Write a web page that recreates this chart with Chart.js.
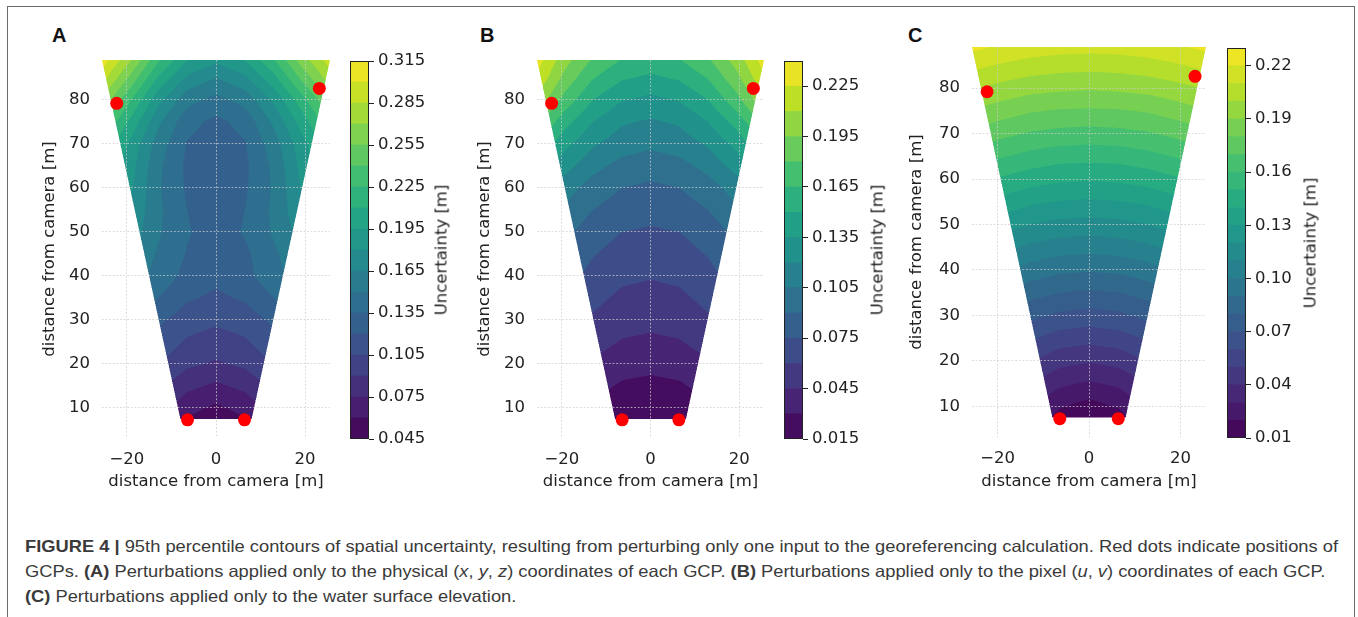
<!DOCTYPE html>
<html>
<head>
<meta charset="utf-8">
<title>Figure 4 - spatial uncertainty</title>
<script src="https://cdn.jsdelivr.net/npm/chart.js@4.4.1/dist/chart.umd.min.js"></script>
<style>
  html, body { margin: 0; padding: 0; background: #fff; }
  body { position: relative; width: 1358px; height: 617px; overflow: hidden; font-family: "DejaVu Sans", sans-serif; }
  #frame { position: absolute; left: 7px; top: 6px; width: 1348px; height: 660px; border: 1.5px solid #6a6a6a; box-sizing: border-box; }
  canvas { position: absolute; }
  .tag { position: absolute; top: 24px; font: bold 20px "Liberation Sans", Arial, sans-serif; color: #111; }
  .cbtitle { position: absolute; font-size: 16.5px; color: #222; white-space: nowrap; transform: translate(-50%, -50%) rotate(-90deg); }
  #caption { position: absolute; left: 25px; top: 534px; font: 16.5px "Liberation Sans", Arial, sans-serif; color: #3a3a3a; line-height: 25px; white-space: nowrap; transform-origin: 0 0; }
  #caption span { display: inline-block; }
</style>
</head>
<body>
<div id="frame"></div>

<div class="tag" style="left:52px">A</div>
<div class="tag" style="left:480px">B</div>
<div class="tag" style="left:908px">C</div>

<canvas id="plotA" width="320" height="455" style="left:20px;top:50px"></canvas>
<canvas id="barA" width="95" height="398" style="left:345px;top:51px"></canvas>
<canvas id="plotB" width="319" height="455" style="left:455px;top:50px"></canvas>
<canvas id="barB" width="95" height="398" style="left:779px;top:51px"></canvas>
<canvas id="plotC" width="326" height="468" style="left:890px;top:37px"></canvas>
<canvas id="barC" width="95" height="410" style="left:1222px;top:38px"></canvas>

<div class="cbtitle" style="left:441px;top:250px">Uncertainty [m]</div>
<div class="cbtitle" style="left:877px;top:250px">Uncertainty [m]</div>
<div class="cbtitle" style="left:1310px;top:243px">Uncertainty [m]</div>

<div id="caption">
  <div><span id="capLine1"><b>FIGURE 4 |</b> 95th percentile contours of spatial uncertainty, resulting from perturbing only one input to the georeferencing calculation. Red dots indicate positions of</span></div>
  <div><span>GCPs. <b>(A)</b> Perturbations applied only to the physical (<i>x</i>, <i>y</i>, <i>z</i>) coordinates of each GCP. <b>(B)</b> Perturbations applied only to the pixel (<i>u</i>, <i>v</i>) coordinates of each GCP.</span></div>
  <div><span><b>(C)</b> Perturbations applied only to the water surface elevation.</span></div>
</div>

<script>
// axis ticks
const xTicks = [-20, 0, 20];
const yTicks = [10, 20, 30, 40, 50, 60, 70, 80];

// ground control points (x, y in metres)
const gcpX = [-22.3, 23.2, -6.4, 6.4];
const gcpY = [79.2, 82.6, 7.3, 7.3];

// camera footprint corners
const footprintX = [-25.6, 25.6, 8.0, -8.0];
const footprintY = [89.05, 89.05, 7.5, 7.5];

// nodes of the uncertainty grids
const gridX = [-26, -19.5, -13, -6.5, 0, 6.5, 13, 19.5, 26];
const gridY = [7, 10, 15, 20, 25, 30, 35, 40, 45, 50, 55, 60, 65, 70, 75, 80, 85, 90];

// A: physical (x, y, z) of GCPs, one row per gridY
const uncertaintyA = [
  [0.130, 0.100, 0.075, 0.058, 0.050, 0.058, 0.075, 0.100, 0.130],
  [0.135, 0.105, 0.082, 0.065, 0.057, 0.065, 0.082, 0.105, 0.135],
  [0.140, 0.115, 0.094, 0.079, 0.072, 0.079, 0.094, 0.115, 0.140],
  [0.148, 0.125, 0.106, 0.093, 0.088, 0.093, 0.106, 0.125, 0.148],
  [0.152, 0.132, 0.115, 0.103, 0.098, 0.103, 0.115, 0.132, 0.152],
  [0.158, 0.138, 0.123, 0.112, 0.108, 0.112, 0.123, 0.138, 0.158],
  [0.164, 0.148, 0.135, 0.122, 0.117, 0.122, 0.135, 0.148, 0.164],
  [0.172, 0.158, 0.145, 0.130, 0.124, 0.130, 0.145, 0.158, 0.172],
  [0.178, 0.165, 0.148, 0.134, 0.127, 0.132, 0.147, 0.163, 0.176],
  [0.188, 0.175, 0.152, 0.1365, 0.127, 0.1365, 0.152, 0.172, 0.185],
  [0.198, 0.180, 0.153, 0.135, 0.126, 0.135, 0.153, 0.178, 0.195],
  [0.205, 0.184, 0.152, 0.133, 0.125, 0.133, 0.152, 0.182, 0.200],
  [0.214, 0.188, 0.153, 0.132, 0.124, 0.132, 0.153, 0.186, 0.210],
  [0.225, 0.193, 0.158, 0.134, 0.127, 0.134, 0.158, 0.190, 0.220],
  [0.245, 0.208, 0.168, 0.140, 0.131, 0.140, 0.168, 0.203, 0.238],
  [0.270, 0.228, 0.185, 0.155, 0.145, 0.155, 0.183, 0.220, 0.258],
  [0.295, 0.253, 0.208, 0.177, 0.165, 0.177, 0.205, 0.245, 0.280],
  [0.314, 0.278, 0.232, 0.200, 0.188, 0.200, 0.228, 0.268, 0.298]
];

// B: pixel (u, v) of GCPs
const uncertaintyB = [
  [0.053, 0.037, 0.025, 0.018, 0.016, 0.018, 0.025, 0.037, 0.053],
  [0.056, 0.040, 0.028, 0.021, 0.019, 0.021, 0.028, 0.040, 0.056],
  [0.063, 0.047, 0.035, 0.028, 0.026, 0.028, 0.035, 0.047, 0.063],
  [0.071, 0.055, 0.043, 0.036, 0.034, 0.036, 0.043, 0.055, 0.071],
  [0.079, 0.063, 0.051, 0.044, 0.042, 0.044, 0.051, 0.063, 0.079],
  [0.086, 0.070, 0.058, 0.051, 0.049, 0.051, 0.058, 0.070, 0.086],
  [0.092, 0.076, 0.064, 0.057, 0.055, 0.057, 0.064, 0.076, 0.092],
  [0.098, 0.082, 0.070, 0.063, 0.061, 0.063, 0.070, 0.082, 0.098],
  [0.104, 0.088, 0.076, 0.069, 0.067, 0.069, 0.076, 0.088, 0.104],
  [0.110, 0.094, 0.082, 0.075, 0.073, 0.075, 0.082, 0.094, 0.110],
  [0.121, 0.103, 0.090, 0.083, 0.080, 0.083, 0.090, 0.103, 0.121],
  [0.131, 0.112, 0.098, 0.090, 0.087, 0.090, 0.098, 0.112, 0.131],
  [0.148, 0.126, 0.110, 0.100, 0.097, 0.100, 0.110, 0.126, 0.148],
  [0.166, 0.140, 0.122, 0.112, 0.108, 0.112, 0.122, 0.140, 0.166],
  [0.186, 0.156, 0.135, 0.122, 0.118, 0.122, 0.135, 0.156, 0.186],
  [0.209, 0.175, 0.150, 0.136, 0.131, 0.136, 0.150, 0.175, 0.209],
  [0.225, 0.191, 0.166, 0.152, 0.147, 0.152, 0.166, 0.191, 0.225],
  [0.236, 0.204, 0.181, 0.167, 0.162, 0.167, 0.181, 0.204, 0.236]
];

// C: water surface elevation
const uncertaintyC = [
  [0.058, 0.043, 0.028, 0.015, 0.011, 0.015, 0.028, 0.043, 0.058],
  [0.061, 0.046, 0.032, 0.021, 0.016, 0.021, 0.032, 0.046, 0.061],
  [0.066, 0.052, 0.0405, 0.032, 0.0285, 0.032, 0.0405, 0.052, 0.066],
  [0.073, 0.061, 0.051, 0.0435, 0.041, 0.0435, 0.051, 0.061, 0.073],
  [0.081, 0.070, 0.0615, 0.0555, 0.0535, 0.0555, 0.0615, 0.070, 0.081],
  [0.090, 0.0805, 0.073, 0.068, 0.066, 0.068, 0.073, 0.0805, 0.090],
  [0.100, 0.091, 0.084, 0.080, 0.0785, 0.080, 0.084, 0.091, 0.100],
  [0.110, 0.102, 0.096, 0.092, 0.091, 0.092, 0.096, 0.102, 0.110],
  [0.121, 0.1135, 0.108, 0.105, 0.1035, 0.105, 0.108, 0.1135, 0.121],
  [0.132, 0.125, 0.120, 0.117, 0.116, 0.117, 0.120, 0.125, 0.132],
  [0.143, 0.137, 0.132, 0.1295, 0.1285, 0.1295, 0.132, 0.137, 0.143],
  [0.1545, 0.149, 0.1445, 0.142, 0.141, 0.142, 0.1445, 0.149, 0.1545],
  [0.166, 0.161, 0.157, 0.154, 0.1535, 0.154, 0.157, 0.161, 0.166],
  [0.178, 0.173, 0.169, 0.167, 0.166, 0.167, 0.169, 0.173, 0.178],
  [0.1895, 0.185, 0.181, 0.179, 0.1785, 0.179, 0.181, 0.185, 0.1895],
  [0.201, 0.197, 0.1935, 0.192, 0.191, 0.192, 0.1935, 0.197, 0.201],
  [0.213, 0.209, 0.206, 0.204, 0.2035, 0.204, 0.206, 0.209, 0.213],
  [0.225, 0.221, 0.218, 0.2165, 0.216, 0.2165, 0.218, 0.221, 0.225]
];

// contour levels and colorbar ticks
const levelsA = [0.045, 0.06, 0.075, 0.09, 0.105, 0.12, 0.135, 0.15, 0.165, 0.18, 0.195, 0.21, 0.225, 0.24, 0.255, 0.27, 0.285, 0.3, 0.315];
const levelsB = [0.015, 0.03, 0.045, 0.06, 0.075, 0.09, 0.105, 0.12, 0.135, 0.15, 0.165, 0.18, 0.195, 0.21, 0.225, 0.24];
const levelsC = [0.01, 0.02, 0.03, 0.04, 0.05, 0.06, 0.07, 0.08, 0.09, 0.10, 0.11, 0.12, 0.13, 0.14, 0.15, 0.16, 0.17, 0.18, 0.19, 0.20, 0.21, 0.22, 0.23];
const cbTicksA = [0.045, 0.075, 0.105, 0.135, 0.165, 0.195, 0.225, 0.255, 0.285, 0.315];
const cbTicksB = [0.015, 0.045, 0.075, 0.105, 0.135, 0.165, 0.195, 0.225];
const cbTicksC = [0.01, 0.04, 0.07, 0.10, 0.13, 0.16, 0.19, 0.22];

const tickFont = { family: '"DejaVu Sans", sans-serif', size: 16.5 };
const textColor = '#222';
const gridColor = 'rgba(205,205,205,0.75)';

const viridisStops = ['#440154', '#482475', '#414487', '#355f8d', '#2a788e', '#21918c',
                      '#22a884', '#44bf70', '#7ad151', '#bddf26', '#fde725'];

function hexRgb(h) {
    return [1, 3, 5].map(i => parseInt(h.substr(i, 2), 16));
}
const viridisRgb = viridisStops.map(hexRgb);

function viridis(t) {
    const p = Math.min(Math.max(t, 0), 1) * (viridisRgb.length - 1);
    const i = Math.min(Math.floor(p), viridisRgb.length - 2);
    const f = p - i;
    return viridisRgb[i].map((c, k) => Math.round(c + (viridisRgb[i + 1][k] - c) * f));
}

// matplotlib colours a band by its mid value
function bandColors(levels) {
    const n = levels.length - 1;
    return Array.from({ length: n }, (_, i) => viridis((i + 0.5) / n));
}

function lowerNode(arr, v) {
    let i = 0;
    while (i < arr.length - 2 && v > arr[i + 1]) i++;
    return i;
}

function sampleField(field, x, y) {
    const i = lowerNode(gridX, x), j = lowerNode(gridY, y);
    const tx = Math.min(Math.max((x - gridX[i]) / (gridX[i + 1] - gridX[i]), 0), 1);
    const ty = Math.min(Math.max((y - gridY[j]) / (gridY[j + 1] - gridY[j]), 0), 1);
    const lo = field[j][i] * (1 - tx) + field[j][i + 1] * tx;
    const hi = field[j + 1][i] * (1 - tx) + field[j + 1][i + 1] * tx;
    return lo * (1 - ty) + hi * ty;
}

function insideFootprint(x, y) {
    let inside = false;
    for (let i = 0, j = footprintX.length - 1; i < footprintX.length; j = i++) {
        const xi = footprintX[i], yi = footprintY[i], xj = footprintX[j], yj = footprintY[j];
        if ((yi > y) !== (yj > y) && x < (xj - xi) * (y - yi) / (yj - yi) + xi) inside = !inside;
    }
    return inside;
}

// filled contours, painted before the grid so the dotted grid sits on top
function contourFill(field, levels) {
    const colors = bandColors(levels);
    return {
        id: 'contourFill',
        beforeDraw(chart) {
            const a = chart.chartArea, sx = chart.scales.x, sy = chart.scales.y;
            const w = Math.ceil(a.right - a.left), h = Math.ceil(a.bottom - a.top);
            const off = document.createElement('canvas');
            off.width = w; off.height = h;
            const octx = off.getContext('2d');
            const img = octx.createImageData(w, h);
            const sub = [0.25, 0.75];
            for (let py = 0; py < h; py++) {
                for (let px = 0; px < w; px++) {
                    let r = 0, g = 0, b = 0, n = 0;
                    for (const oy of sub) {
                        const dy = sy.getValueForPixel(a.top + py + oy);
                        for (const ox of sub) {
                            const dx = sx.getValueForPixel(a.left + px + ox);
                            if (!insideFootprint(dx, dy)) continue;
                            const v = sampleField(field, dx, dy);
                            let k = 0;
                            while (k < colors.length - 1 && v >= levels[k + 1]) k++;
                            r += colors[k][0]; g += colors[k][1]; b += colors[k][2]; n++;
                        }
                    }
                    if (!n) continue;
                    const o = (py * w + px) * 4;
                    img.data[o] = r / n; img.data[o + 1] = g / n; img.data[o + 2] = b / n;
                    img.data[o + 3] = Math.round(n / 4 * 255);
                }
            }
            octx.putImageData(img, 0, 0);
            chart.ctx.drawImage(off, a.left, a.top);
        }
    };
}

const barOutline = {
    id: 'barOutline',
    afterDatasetsDraw(chart) {
        const a = chart.chartArea, ctx = chart.ctx;
        ctx.save();
        ctx.strokeStyle = '#222';
        ctx.lineWidth = 1;
        ctx.strokeRect(a.left + 0.5, a.top + 0.5, a.right - a.left - 1, a.bottom - a.top - 1);
        ctx.restore();
    }
};

function minus(v) {
    return v < 0 ? '\u2212' + Math.abs(v) : String(v);
}

// keep Chart.js from growing the plot margins for tick labels
function noLabelPadding(s) {
    s.paddingTop = 0; s.paddingBottom = 0; s.paddingLeft = 0; s.paddingRight = 0;
}

function makePlot(id, box, field, levels) {
    new Chart(document.getElementById(id), {
        type: 'scatter',
        data: {
            datasets: [{
                data: gcpX.map((x, i) => ({ x: x, y: gcpY[i] })),
                backgroundColor: '#ff0000',
                pointRadius: 6.5,
                borderWidth: 0,
                clip: false
            }]
        },
        options: {
            responsive: false,
            animation: false,
            devicePixelRatio: 1,
            events: [],
            layout: { padding: { left: 0, top: box.area[1] - box.top, right: box.left + box.w - box.area[2], bottom: 0 } },
            plugins: { legend: { display: false }, tooltip: { enabled: false } },
            scales: {
                x: {
                    type: 'linear', min: -25.6, max: 25.6,
                    afterBuildTicks: s => { s.ticks = xTicks.map(v => ({ value: v })); },
                    afterFit: s => { s.height = box.top + box.h - box.area[3]; noLabelPadding(s); },
                    grid: { color: gridColor, lineWidth: 1, drawTicks: false },
                    border: { display: false, dash: [1.8, 1.8] },
                    ticks: { padding: 12, color: textColor, font: tickFont, autoSkip: false, maxRotation: 0, callback: v => minus(v) },
                    title: { display: true, text: 'distance from camera [m]', color: textColor, font: tickFont, padding: { top: 0, bottom: 13 } }
                },
                y: {
                    type: 'linear', min: box.yMin, max: 89.05,
                    afterBuildTicks: s => { s.ticks = yTicks.map(v => ({ value: v })); },
                    afterFit: s => { s.width = box.area[0] - box.left; noLabelPadding(s); },
                    grid: { color: gridColor, lineWidth: 1, drawTicks: false },
                    border: { display: false, dash: [1.8, 1.8] },
                    ticks: { padding: 12, color: textColor, font: tickFont, autoSkip: false, callback: v => minus(v) },
                    title: { display: true, text: 'distance from camera [m]', color: textColor, font: tickFont, padding: { top: box.yTitlePad, bottom: 0 } }
                }
            }
        },
        plugins: [contourFill(field, levels)]
    });
}

function makeColorbar(id, box, levels, ticks, digits) {
    const colors = bandColors(levels);
    new Chart(document.getElementById(id), {
        type: 'bar',
        data: {
            labels: [''],
            datasets: colors.map((c, i) => ({
                data: [[levels[i], levels[i + 1]]],
                backgroundColor: 'rgb(' + c.join(',') + ')',
                borderWidth: 0,
                barPercentage: 1,
                categoryPercentage: 1,
                grouped: false
            }))
        },
        options: {
            responsive: false,
            animation: false,
            devicePixelRatio: 1,
            events: [],
            layout: { padding: { left: box.area[0] - box.left, top: box.area[1] - box.top, right: 0, bottom: box.top + box.h - box.area[3] } },
            plugins: { legend: { display: false }, tooltip: { enabled: false } },
            scales: {
                x: { display: false },
                y: {
                    position: 'right', min: levels[0], max: levels[levels.length - 1],
                    afterBuildTicks: s => { s.ticks = ticks.map(v => ({ value: v })); },
                    afterFit: s => { s.width = box.left + box.w - box.area[2]; noLabelPadding(s); },
                    grid: { drawOnChartArea: false, drawTicks: true, tickLength: 5, color: '#222', lineWidth: 1 },
                    border: { display: false },
                    ticks: { padding: 4, color: textColor, font: tickFont, autoSkip: false, callback: v => v.toFixed(digits) }
                }
            }
        },
        plugins: [barOutline]
    });
}

makePlot('plotA', { left: 20, top: 50, w: 320, h: 455, area: [102, 60, 330, 438], yMin: 3.18, yTitlePad: 20 }, uncertaintyA, levelsA);
makePlot('plotB', { left: 455, top: 50, w: 319, h: 455, area: [537, 60, 764, 438], yMin: 3.18, yTitlePad: 20 }, uncertaintyB, levelsB);
makePlot('plotC', { left: 890, top: 37, w: 326, h: 468, area: [972, 47, 1206, 437], yMin: 3.26, yTitlePad: 17 }, uncertaintyC, levelsC);

makeColorbar('barA', { left: 345, top: 51, w: 95, h: 398, area: [350, 61, 369, 439] }, levelsA, cbTicksA, 3);
makeColorbar('barB', { left: 779, top: 51, w: 95, h: 398, area: [784, 61, 803, 439] }, levelsB, cbTicksB, 3);
makeColorbar('barC', { left: 1222, top: 38, w: 95, h: 410, area: [1227, 48, 1246, 438] }, levelsC, cbTicksC, 2);

// squeeze the caption to the width of the printed one
const cap = document.getElementById('caption');
const capW = document.getElementById('capLine1').getBoundingClientRect().width;
cap.style.transform = 'scaleX(' + (1313 / capW) + ')';
</script>
</body>
</html>
